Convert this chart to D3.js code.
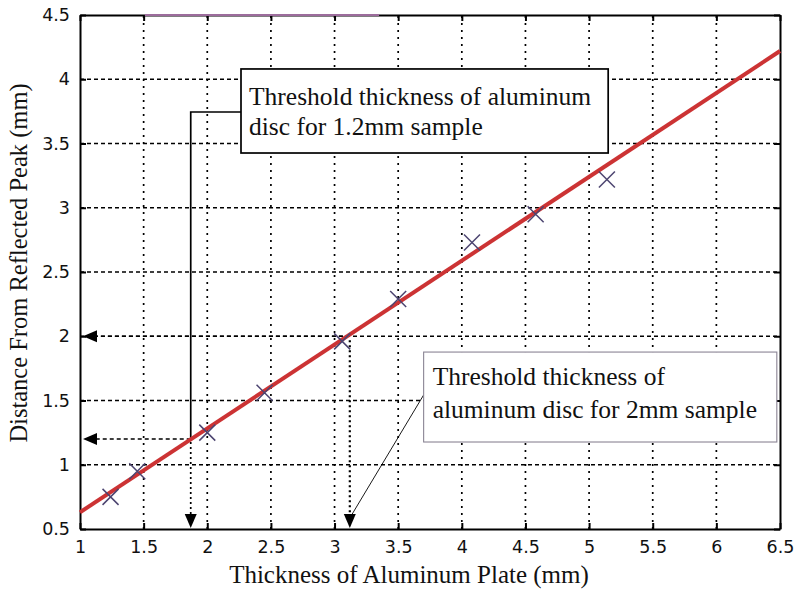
<!DOCTYPE html>
<html>
<head>
<meta charset="utf-8">
<script src="https://cdn.jsdelivr.net/npm/d3@7"></script>
<style>
  html, body { margin: 0; padding: 0; background: #fff; }
  svg { display: block; }
</style>
</head>
<body>
<svg id="chart" width="798" height="600"></svg>
<script>
// Measured plate thickness vs. distance from the reflected peak
const plateThickness = [1.24, 1.45, 2.0, 2.45, 3.06, 3.5, 4.08, 4.58, 5.14];
const peakDistance   = [0.75, 0.95, 1.25, 1.56, 1.96, 2.29, 2.73, 2.95, 3.22];

// Linear fit drawn across the full axis range
const fitX = [1, 6.5];
const fitY = [0.63, 4.22];

// Axis tick values
const xTicks = [1, 1.5, 2, 2.5, 3, 3.5, 4, 4.5, 5, 5.5, 6, 6.5];
const yTicks = [0.5, 1, 1.5, 2, 2.5, 3, 3.5, 4, 4.5];

// Sample thickness (mm) and the plate thickness at which the fit reaches it
const sampleThickness = [1.2, 2.0];
const thresholdPlate  = [1.87, 3.12];

const svg = d3.select("#chart");
const x = d3.scaleLinear().domain([1, 6.5]).range([80, 780]);
const y = d3.scaleLinear().domain([0.5, 4.5]).range([529, 15]);

const tickFont = "'DejaVu Sans', sans-serif";
const serif = "'Liberation Serif', 'Times New Roman', serif";

// Grid: dotted verticals, dashed horizontals
const grid = svg.append("g");
grid.selectAll("line.v").data(xTicks.slice(1, -1)).join("line")
  .attr("x1", d => x(d)).attr("x2", d => x(d))
  .attr("y1", y(0.5)).attr("y2", y(4.5))
  .attr("stroke", "#000").attr("stroke-width", 1.7)
  .attr("stroke-dasharray", "2,5");
grid.selectAll("line.h").data(yTicks.slice(1, -1)).join("line")
  .attr("x1", x(1)).attr("x2", x(6.5))
  .attr("y1", d => y(d)).attr("y2", d => y(d))
  .attr("stroke", "#000").attr("stroke-width", 1.6)
  .attr("stroke-dasharray", "4,3");

// Axes with inward ticks on all four sides
const axisBottomG = svg.append("g").attr("transform", `translate(0,${y(0.5)})`)
  .call(d3.axisBottom(x).tickValues(xTicks).tickSizeInner(-6).tickSizeOuter(0).tickPadding(12).tickFormat(d3.format("")));
const axisTopG = svg.append("g").attr("transform", `translate(0,${y(4.5)})`)
  .call(d3.axisTop(x).tickValues(xTicks).tickSizeInner(-6).tickSizeOuter(0).tickFormat(""));
const axisLeftG = svg.append("g").attr("transform", `translate(${x(1)},0)`)
  .call(d3.axisLeft(y).tickValues(yTicks).tickSizeInner(-6).tickSizeOuter(0).tickPadding(10).tickFormat(d3.format("")));
const axisRightG = svg.append("g").attr("transform", `translate(${x(6.5)},0)`)
  .call(d3.axisRight(y).tickValues(yTicks).tickSizeInner(-6).tickSizeOuter(0).tickFormat(""));

[axisBottomG, axisTopG, axisLeftG, axisRightG].forEach(g => {
  g.select(".domain").attr("stroke", "#000").attr("stroke-width", 2);
  g.selectAll(".tick line").attr("stroke", "#000").attr("stroke-width", 2);
  g.selectAll("text").attr("font-family", tickFont).attr("font-size", 17.5).attr("fill", "#111");
});
axisBottomG.selectAll("text").attr("dy", "0.71em");

// Faint tinted stretch along the top border
svg.append("line")
  .attr("x1", x(1.51)).attr("x2", x(3.35))
  .attr("y1", y(4.5)).attr("y2", y(4.5))
  .attr("stroke", "#9c6c9c").attr("stroke-width", 2.2);

// Arrowhead helpers
function arrowLeft(tx, ty) {
  svg.append("path")
    .attr("d", `M${tx},${ty} L${tx + 14},${ty - 6} L${tx + 14},${ty + 6} Z`)
    .attr("fill", "#000");
}
function arrowDown(tx, ty) {
  svg.append("path")
    .attr("d", `M${tx},${ty} L${tx - 6},${ty - 14} L${tx + 6},${ty - 14} Z`)
    .attr("fill", "#000");
}

// Annotation 1: threshold for the 1.2 mm sample
const box1 = { x0: 2.265, x1: 5.15, yTop: 4.08, yBot: 3.426, link: 3.745 };
const p1 = thresholdPlate[0], s1 = sampleThickness[0];
svg.append("path")
  .attr("d", `M${x(box1.x0)},${y(box1.link)} H${x(p1)} V${y(s1)}`)
  .attr("fill", "none").attr("stroke", "#000").attr("stroke-width", 1.7);
svg.append("line")
  .attr("x1", x(p1)).attr("x2", x(p1)).attr("y1", y(s1) + 3).attr("y2", y(0.5) - 14)
  .attr("stroke", "#000").attr("stroke-width", 1.7).attr("stroke-dasharray", "2,3");
svg.append("line")
  .attr("x1", x(p1)).attr("x2", x(1) + 16).attr("y1", y(s1)).attr("y2", y(s1))
  .attr("stroke", "#000").attr("stroke-width", 1.6).attr("stroke-dasharray", "4,3");
arrowDown(x(p1), y(0.5) - 1);
arrowLeft(x(1) + 3, y(s1));

// Annotation 2: threshold for the 2 mm sample
const p2 = thresholdPlate[1], s2 = sampleThickness[1];
svg.append("line")
  .attr("x1", x(p2)).attr("x2", x(1) + 16).attr("y1", y(s2)).attr("y2", y(s2))
  .attr("stroke", "#000").attr("stroke-width", 1.6).attr("stroke-dasharray", "4,3");
svg.append("line")
  .attr("x1", x(p2)).attr("x2", x(p2)).attr("y1", y(s2) + 4).attr("y2", y(0.5) - 14)
  .attr("stroke", "#000").attr("stroke-width", 2.2).attr("stroke-dasharray", "2,3");
arrowDown(x(p2), y(0.5) - 1);
arrowLeft(x(1) + 3, y(s2));

// Fitted line
svg.append("line")
  .attr("x1", x(fitX[0])).attr("y1", y(fitY[0]))
  .attr("x2", x(fitX[1])).attr("y2", y(fitY[1]))
  .attr("stroke", "#cc3334").attr("stroke-width", 4);

// Measured points as crosses
const pts = plateThickness.map((d, i) => [d, peakDistance[i]]);
svg.append("g").selectAll("path").data(pts).join("path")
  .attr("d", d => {
    const cx = x(d[0]), cy = y(d[1]), r = 8;
    return `M${cx - r},${cy - r} L${cx + r},${cy + r} M${cx - r},${cy + r} L${cx + r},${cy - r}`;
  })
  .attr("stroke", "#4c4470").attr("stroke-width", 1.5).attr("fill", "none");

// Text box 1
svg.append("rect")
  .attr("x", x(box1.x0)).attr("y", y(box1.yTop))
  .attr("width", x(box1.x1) - x(box1.x0)).attr("height", y(box1.yBot) - y(box1.yTop))
  .attr("fill", "#fff").attr("stroke", "#000").attr("stroke-width", 1.7);
const t1 = svg.append("text").attr("font-family", serif).attr("font-size", 25.5).attr("fill", "#111");
t1.append("tspan").attr("x", x(box1.x0) + 8).attr("y", y(box1.yTop) + 36).text("Threshold thickness of aluminum");
t1.append("tspan").attr("x", x(box1.x0) + 8).attr("y", y(box1.yTop) + 66).text("disc for 1.2mm sample");

// Text box 2 with its leader arrow
const box2 = { x0: 3.70, x1: 6.475, yTop: 1.877, yBot: 1.177, link: 1.543 };
svg.append("line")
  .attr("x1", x(box2.x0)).attr("y1", y(box2.link))
  .attr("x2", x(p2)).attr("y2", y(0.5) - 11)
  .attr("stroke", "#000").attr("stroke-width", 0.9);
svg.append("rect")
  .attr("x", x(box2.x0)).attr("y", y(box2.yTop))
  .attr("width", x(box2.x1) - x(box2.x0)).attr("height", y(box2.yBot) - y(box2.yTop))
  .attr("fill", "#fff").attr("stroke", "#8a8494").attr("stroke-width", 1.1);
const t2 = svg.append("text").attr("font-family", serif).attr("font-size", 25.5).attr("fill", "#111");
t2.append("tspan").attr("x", x(box2.x0) + 9).attr("y", y(box2.yTop) + 33).text("Threshold thickness of");
t2.append("tspan").attr("x", x(box2.x0) + 9).attr("y", y(box2.yTop) + 66).text("aluminum disc for 2mm sample");

// Axis titles
svg.append("text")
  .attr("x", 409).attr("y", 583)
  .attr("text-anchor", "middle")
  .attr("font-family", serif).attr("font-size", 25).attr("fill", "#111")
  .text("Thickness of Aluminum Plate (mm)");
svg.append("text")
  .attr("transform", "translate(27,263) rotate(-90)")
  .attr("text-anchor", "middle")
  .attr("font-family", serif).attr("font-size", 24.5).attr("fill", "#111")
  .text("Distance From Reflected Peak (mm)");
</script>
</body>
</html>
